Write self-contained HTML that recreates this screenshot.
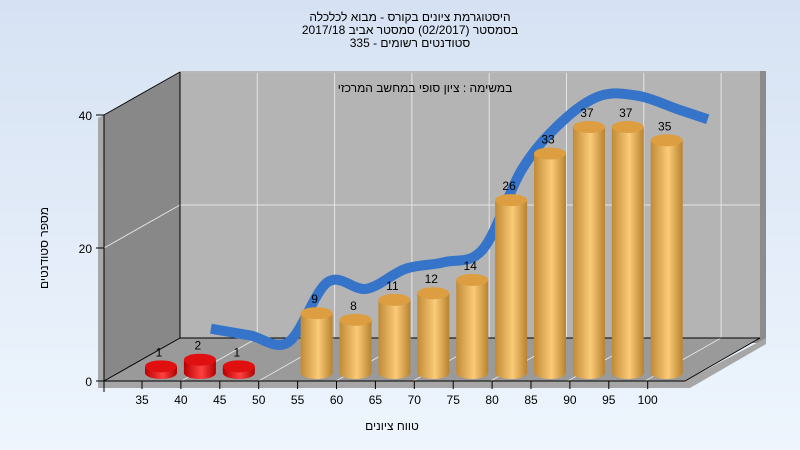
<!DOCTYPE html>
<html><head><meta charset="utf-8"><style>
html,body{margin:0;padding:0}
body{width:800px;height:450px;overflow:hidden;background:linear-gradient(#d6e2f3,#eef5fd);font-family:"Liberation Sans","Noto Sans CJK SC",sans-serif}
svg{display:block}
</style></head><body>
<svg id="chart" width="800" height="450" xmlns="http://www.w3.org/2000/svg" font-family="Liberation Sans, sans-serif">
<defs>
<linearGradient id="gold" x1="0" x2="1"><stop offset="0" stop-color="#c08a36"/><stop offset="0.55" stop-color="#fccb78"/><stop offset="1" stop-color="#b8822e"/></linearGradient>
<linearGradient id="red" x1="0" x2="1"><stop offset="0" stop-color="#b80000"/><stop offset="0.55" stop-color="#ff4040"/><stop offset="1" stop-color="#b00000"/></linearGradient>
</defs>
<g font-size="12" text-anchor="middle" fill="#000">
<text x="410" y="21">היסטוגרמת ציונים בקורס - מבוא לכלכלה</text>
<text x="410" y="34">בסמסטר  (02/2017)  סמסטר אביב 2017/18</text>
<text x="410" y="47">335 - סטודנטים רשומים</text>
</g>
<polygon points="180,71 766,71 766,343 180,343" fill="#8c8c8c"/>
<polygon points="180,73 760,73 760,338 180,338" fill="#b4b4b4"/>
<polygon points="104,115 180,72 180,338 104,381" fill="#888"/>
<polygon points="98,118 104,115 104,388 98,388" fill="#a8a8a8"/>
<polygon points="104,381 180,338 760,338 685,381" fill="#9a9a9a"/>
<polygon points="98,381 685,381 766,338 766,344 690,388 98,388" fill="#a6a6a6"/>
<g id="grid" stroke="#e4e4e4" stroke-width="1"></g>
<path d="M180,72 V338 H760 M104,381 L180,338" stroke="#000" fill="none"/>
<g id="ribbon"></g>
<g id="bars"></g>
<g id="axes"></g>
<text x="425" y="92" font-size="12" text-anchor="middle">במשימה : ציון סופי במחשב המרכזי</text>
<text x="392" y="430" font-size="12" text-anchor="middle">טווח ציונים</text>
<text x="0" y="0" font-size="12" text-anchor="middle" transform="translate(48,248) rotate(-90)">מספר סטודנטים</text>
</svg>
<script>
const categories=["35","40","45","50","55","60","65","70","75","80","85","90","95","100"];
const counts=[1,2,1,0,9,8,11,12,14,26,33,37,37,35];
const yTicks=[0,20,40];
const NS="http://www.w3.org/2000/svg";
function mk(t,a,p){const e=document.createElementNS(NS,t);for(const k in a)e.setAttribute(k,a[k]);p.appendChild(e);return e;}
const xTick=i=>142+i*38.9;
const yFront=v=>381-v*6.65;
const K=6.65;
const grid=document.getElementById('grid');
for(let i=1;i<=7;i++){const x=180+i*77.3;
 const l=mk('line',{x1:x,y1:73,x2:x,y2:338},grid);
 const f=mk('line',{x1:x,y1:338,x2:x-76,y2:381},grid);}
yTicks.forEach(v=>{if(v===0)return;const y=338-v*K;
 const l=mk('line',{x1:180,y1:y,x2:760,y2:y},grid);
 const s=mk('line',{x1:104,y1:yFront(v),x2:180,y2:y},grid);});
// ribbon: smooth catmull-rom through points
const rib=document.getElementById('ribbon');
const pts=counts.map((v,i)=>[xTick(i)+30,342-v*K]).slice(1);
pts.push([pts[pts.length-1][0]+30,pts[pts.length-1][1]+10]);
let d='M'+pts[0][0]+','+pts[0][1];
for(let i=0;i<pts.length-1;i++){const p0=pts[Math.max(0,i-1)],p1=pts[i],p2=pts[i+1],p3=pts[Math.min(pts.length-1,i+2)];
 const c1=[p1[0]+(p2[0]-p0[0])/6,p1[1]+(p2[1]-p0[1])/6],c2=[p2[0]-(p3[0]-p1[0])/6,p2[1]-(p3[1]-p1[1])/6];
 d+=' C'+c1+' '+c2+' '+p2;}
const r=mk('path',{d:d,stroke:'#3574c8',"stroke-width":10,fill:'none',"stroke-linejoin":'round'},rib);


// bars
const bars=document.getElementById('bars');
counts.forEach((v,i)=>{if(v<=0)return;const cx=xTick(i)+19,base=373,top=base-v*K,w=16,ry=6;
 const g=mk('g',{},bars);
 
 
 const fill=i<4?'url(#red)':'url(#gold)',cap=i<4?'#e01010':'#dc9e40';
 mk('path',{d:`M${cx-w},${top} V${base} A${w},${ry} 0 0 0 ${cx+w},${base} V${top} Z`,fill:fill},g);
 mk('ellipse',{cx:cx,cy:top,rx:w,ry:ry,fill:cap},g);
 const t=mk('text',{x:cx-2,y:top-10,"font-size":12,"text-anchor":'middle'},g);t.textContent=v;
 
 });
// axes
const ax=document.getElementById('axes');
mk('line',{x1:104,y1:115,x2:104,y2:392,stroke:'#000'},ax);
mk('line',{x1:104,y1:381,x2:685,y2:381,stroke:'#000'},ax);
mk('line',{x1:685,y1:381,x2:760,y2:338,stroke:'#000'},ax);
mk('line',{x1:104,y1:115,x2:180,y2:72,stroke:'#000'},ax);
categories.forEach((c,i)=>{const x=xTick(i);mk('line',{x1:x,y1:381,x2:x,y2:389,stroke:'#000'},ax);
 const t=mk('text',{x:x,y:404,"font-size":12,"text-anchor":'middle'},ax);t.textContent=c;
 
 });
yTicks.forEach(v=>{const y=yFront(v);mk('line',{x1:96,y1:y,x2:104,y2:y,stroke:'#000'},ax);
 const t=mk('text',{x:92,y:y+5,"font-size":12,"text-anchor":'end'},ax);t.textContent=v;
 
 });
</script>
</body></html>
